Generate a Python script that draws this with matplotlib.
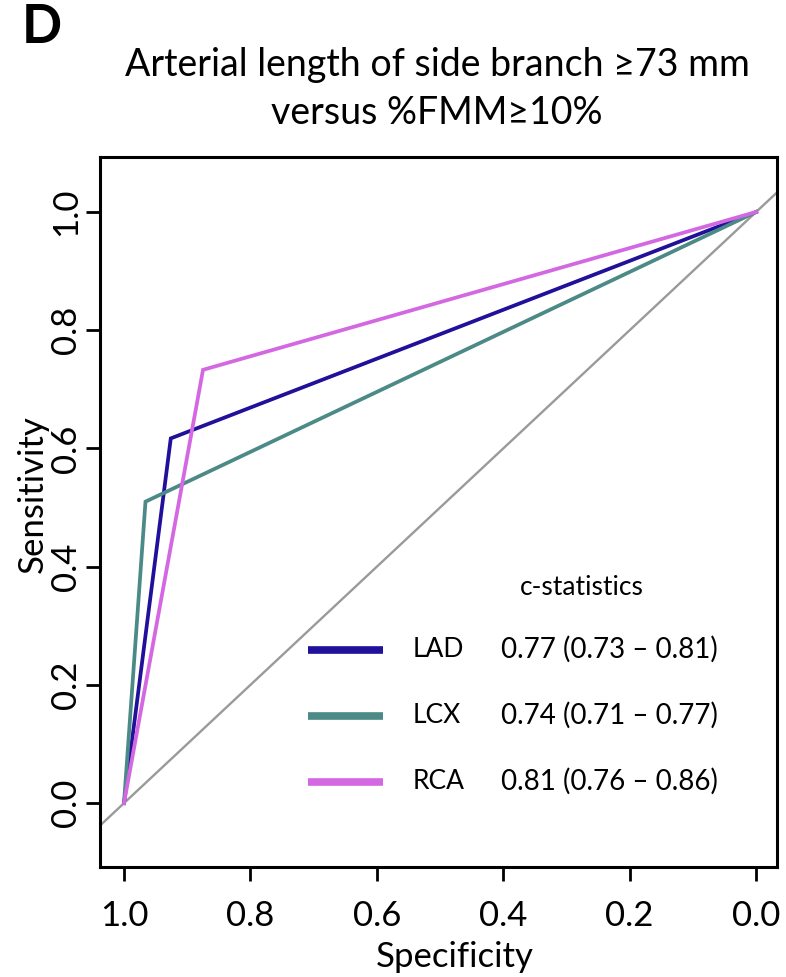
import numpy as np
import matplotlib
matplotlib.use('Agg')
import matplotlib.pyplot as plt

# ROC data (specificity, sensitivity)
lad_spec = [1.0, 0.926, 0.0]
lad_sens = [0.0, 0.617, 1.0]
lcx_spec = [1.0, 0.966, 0.0]
lcx_sens = [0.0, 0.510, 1.0]
rca_spec = [1.0, 0.875, 0.0]
rca_sens = [0.0, 0.733, 1.0]

names = ['LAD', 'LCX', 'RCA']
cstats = ['0.77 (0.73 \u2013 0.81)', '0.74 (0.71 \u2013 0.77)', '0.81 (0.76 \u2013 0.86)']
colors = ['#20109a', '#4b8a86', '#d468e2']
ticks = [1.0, 0.8, 0.6, 0.4, 0.2, 0.0]

plt.rcParams['font.family'] = ['Lato', 'DejaVu Sans']

fig = plt.figure(figsize=(7.86, 9.77), dpi=100)
ax = fig.add_axes([0.1272, 0.1126, 0.8613, 0.7267])

# chance line
ax.axline((1.0, 0.0), (0.0, 1.0), color='#9a9a9a', lw=1.7, zorder=1)

for sx, sy, c in [(lad_spec, lad_sens, colors[0]),
                  (lcx_spec, lcx_sens, colors[1]),
                  (rca_spec, rca_sens, colors[2])]:
    ax.plot(sx, sy, color=c, lw=2.7, solid_joinstyle='miter', zorder=2)

ax.set_xlim(1.038, -0.033)
ax.set_ylim(-0.108, 1.093)
ax.set_xticks(ticks)
ax.set_yticks(ticks)
ax.set_xticklabels(['%.1f' % t for t in ticks])
ax.set_yticklabels(['%.1f' % t for t in ticks], rotation=90, va='center')
ax.tick_params(axis='both', labelsize=25, length=10, width=2.0)
ax.tick_params(axis='x', pad=14)
ax.tick_params(axis='y', pad=3)
for sp in ax.spines.values():
    sp.set_linewidth(2.2)

ax.set_xlabel('Specificity', fontsize=25)
ax.xaxis.label.set_va('center')
ax.xaxis.set_label_coords(0.524, -0.127)
ax.set_ylabel('Sensitivity', fontsize=25)
ax.yaxis.label.set_va('center')
ax.yaxis.set_label_coords(-0.099, 0.525)

# legend block
ax.text(0.712, 0.393, 'c-statistics', transform=ax.transAxes,
        ha='center', va='center', fontsize=19)
row_y = [0.306, 0.213, 0.120]
for n, cs, c, y in zip(names, cstats, colors, row_y):
    ax.plot([0.307, 0.418], [y, y], color=c, lw=5.5, transform=ax.transAxes,
            solid_capstyle='butt')
    ax.text(0.462, y, n, transform=ax.transAxes, ha='left', va='center',
            fontsize=19)
    ax.text(0.592, y, cs, transform=ax.transAxes, ha='left', va='center',
            fontsize=20)

fig.text(0.556, 0.933, 'Arterial length of side branch \u226573 mm',
         ha='center', va='center', fontsize=27)
fig.text(0.556, 0.884, 'versus %FMM\u226510%', ha='center', va='center',
         fontsize=27)
fig.text(0.053, 0.972, 'D', ha='center', va='center', fontsize=38,
         fontweight='bold')

fig.savefig('out.png', dpi=100)
